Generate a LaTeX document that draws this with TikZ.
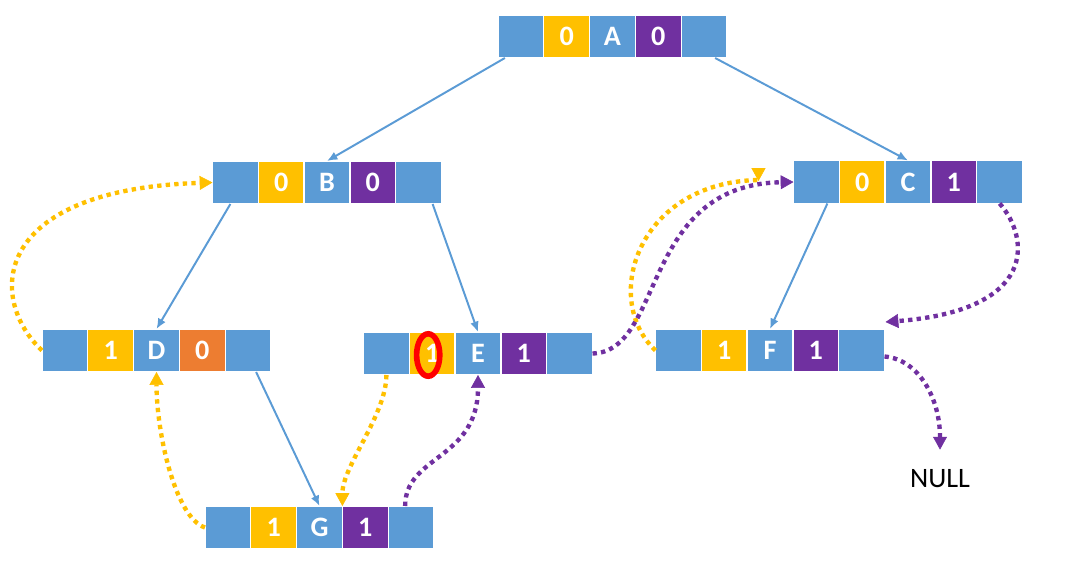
\documentclass[tikz,border=0pt]{standalone}
\usepackage{fontspec}
\setmainfont{Carlito}
\usetikzlibrary{arrows.meta, positioning, calc}
\definecolor{CellBlue}{HTML}{5B9BD5}
\definecolor{TagYellow}{HTML}{FFC000}
\definecolor{TagPurple}{HTML}{7030A0}
\definecolor{TagOrange}{HTML}{ED7D31}
\tikzset{
  cell/.style={draw=white, line width=1pt, minimum width=1.145cm, minimum height=1.075cm, inner sep=0pt, outer sep=0pt, text=white, font=\fontsize{20}{22}\selectfont\bfseries},
  ptrcell/.style={cell, fill=CellBlue},
  datacell/.style={cell, fill=CellBlue},
  yellowcell/.style={cell, fill=TagYellow},
  purplecell/.style={cell, fill=TagPurple},
  orangecell/.style={cell, fill=TagOrange},
  treearrow/.style={-{Latex[length=2.6mm, width=2.2mm]}, line width=1.4pt, draw=CellBlue},
  prearrow/.style={-{Triangle[length=3.2mm, width=3.5mm, line width=0.4pt]}, line width=3.1pt, dash pattern=on 3.1pt off 3pt, draw=TagYellow},
  sucarrow/.style={-{Triangle[length=3.2mm, width=3.5mm, line width=0.4pt]}, line width=3.1pt, dash pattern=on 3.1pt off 3pt, draw=TagPurple}
}
% one threaded node: name, centre, left tag, data, right tag, right tag style
\newcommand{\threadnode}[6]{%
  \node[datacell] (#1) at (#2) {#4};
  \node[yellowcell, left=0pt of #1] (#1-lt) {#3};
  \node[ptrcell, left=0pt of #1-lt] (#1-lc) {};
  \node[#6, right=0pt of #1] (#1-rt) {#5};
  \node[ptrcell, right=0pt of #1-rt] (#1-rc) {};
}

\begin{document}
\begin{tikzpicture}[x=0.025cm, y=-0.025cm]
\useasboundingbox (0,0) rectangle (1065,573);
% nodes
\threadnode{a}{612.5,36.5}{0}{A}{0}{purplecell}
\threadnode{b}{327,182.5}{0}{B}{0}{purplecell}
\threadnode{c}{908,182}{0}{C}{1}{purplecell}
\threadnode{d}{156.5,350.5}{1}{D}{0}{orangecell}
\threadnode{e}{478,353.5}{1}{E}{1}{purplecell}
\threadnode{f}{770,350.5}{1}{F}{1}{purplecell}
\threadnode{g}{319.5,527.5}{1}{G}{1}{purplecell}
\node[font=\fontsize{20}{22}\selectfont, inner sep=0pt] (null) at (940,479) {NULL};
\coordinate (c-in) at ($(c-lc.west)+(-35,-2)$);
\coordinate (f-in) at ($(f-rc.north east)+(1,-7)$);
% tree links
\draw[treearrow] ($(a-lc.south)+(-16,0)$) -- (b.north);
\draw[treearrow] ($(a-rc.south)+(11,0)$) -- (c.north);
\draw[treearrow] ($(b-lc.south)+(-5,0)$) -- (d.north);
\draw[treearrow] ($(b-rc.south)+(14,0)$) -- (e.north);
\draw[treearrow] ($(c-lc.south)+(11,0)$) -- (f.north);
\draw[treearrow] ($(d-rc.south)+(8,0)$) -- (g.north);
% predecessor threads
\draw[prearrow] (d-lc.west) .. controls +(-55,-52) and +(-222,7) .. (b-lc.west);
\draw[prearrow] (g-lc.west) .. controls +(-30,-10) and +(0,60) .. (d.south);
\draw[prearrow] (e-lc.south) .. controls +(0,40) and +(0,-40) .. (g.north east);
\draw[prearrow] (f-lc.west) .. controls +(-55,-52) and +(-120,2) .. (c-in) -- ++(0,1);
% successor threads
\draw[sucarrow] (e-rc.east) .. controls +(72,-2) and +(-153,3) .. (c-lc.west);
\draw[sucarrow] ($(g-rc.north)+(-6,0)$) .. controls +(0,-51) and +(0,85) .. (e.south);
\draw[sucarrow] (c-rc.south) .. controls +(30,34) and +(153,-12) .. (f-in);
\draw[sucarrow, shorten >=0.5cm] ($(f-rc.east)+(0,6)$) .. controls +(35,3) and +(0,-70) .. (null.north);
% mark on E
\draw[red, line width=4pt] ($(e-lt.center)+(-4,1.5)$) ellipse [x radius=0.29cm, y radius=0.53cm];
\end{tikzpicture}
\end{document}
